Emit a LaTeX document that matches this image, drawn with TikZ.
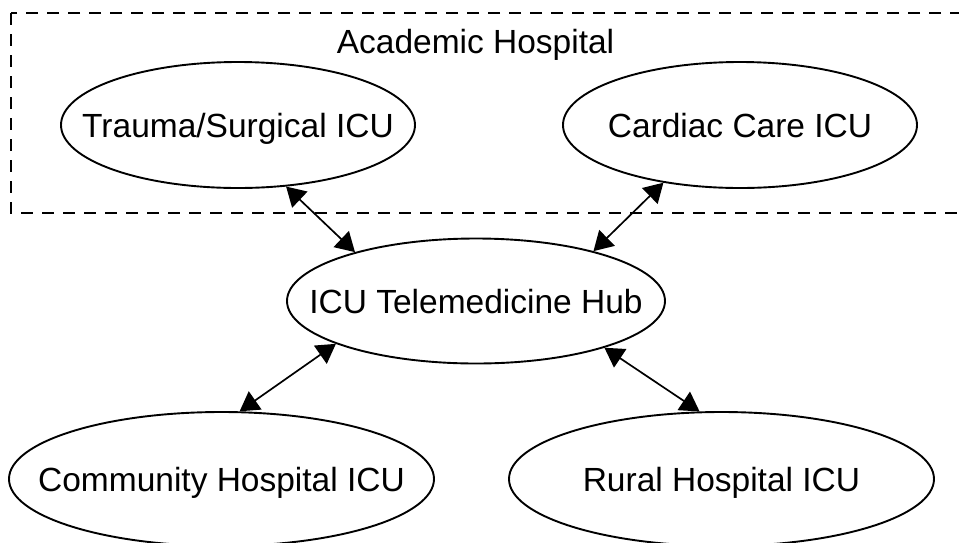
\documentclass[tikz,border=0pt]{standalone}
\usepackage{fontspec}
\setmainfont{Liberation Sans}
\usepackage{tikz}
\usetikzlibrary{positioning, shapes.geometric, arrows.meta}

\begin{document}
\begin{tikzpicture}[x=1pt, y=-1pt, font=\fontsize{33.5}{40}\selectfont]

  \tikzstyle{unit}=[ellipse, draw, line width=1.9pt, inner xsep=-40pt, inner ysep=0pt, text height=24pt, text depth=0pt]
  \tikzstyle{icu}=[unit, minimum width=354pt, minimum height=126pt]
  \tikzstyle{site}=[unit, minimum width=425pt, minimum height=134pt]
  \tikzstyle{hub}=[unit, minimum width=378pt, minimum height=125pt]
  \tikzstyle{link}=[line width=1.7pt, {Triangle[length=19pt, width=22pt]}-{Triangle[length=19pt, width=22pt]}]

  \useasboundingbox (0,0) rectangle (959,542);
  \clip (0,0) rectangle (959,542);

  % academic hospital group
  \draw [line width=1.9pt, dash pattern=on 12pt off 9pt] (11,13) rectangle (990,213);
  \node [anchor=base] (academic) at (475.5,53) {Academic Hospital};

  \node [icu] (trauma) at (238,125) {Trauma/Surgical ICU};
  \node [icu] (cardiac) at (740,125) {Cardiac Care ICU};

  \node [hub] (hub) at (476,301) {ICU Telemedicine Hub};

  \node [site] (community) at (221.5,479) {Community Hospital ICU};
  \node [site] (rural) at (721.5,479) {Rural Hospital ICU};

  \draw [link] (trauma.-52) -- (hub.158);
  \draw [link] (cardiac.-143) -- (hub.23);
  \draw [link] (hub.-163) -- (community.75);
  \draw [link] (hub.-20) -- (rural.108);

\end{tikzpicture}
\end{document}
